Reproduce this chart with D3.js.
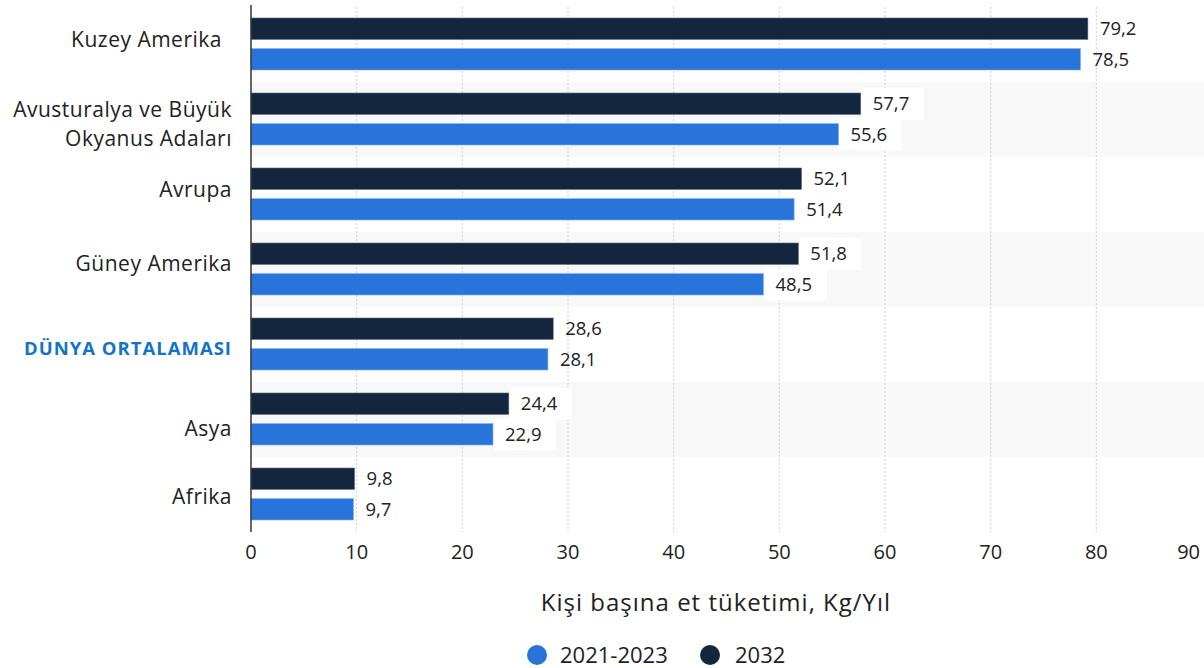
<!DOCTYPE html>
<html>
<head>
<meta charset="utf-8">
<script src="https://cdn.jsdelivr.net/npm/d3@7"></script>
<style>
  body { margin: 0; background: #fff; }
  text { font-family: "Open Sans", Lato, sans-serif; }
</style>
</head>
<body>
<div id="chart"></div>
<script>
// data
var regions = ["Kuzey Amerika", "Avusturalya ve Büyük|Okyanus Adaları", "Avrupa", "Güney Amerika", "DÜNYA ORTALAMASI", "Asya", "Afrika"];
var val2032 = [79.2, 57.7, 52.1, 51.8, 28.6, 24.4, 9.8];
var val2021 = [78.5, 55.6, 51.4, 48.5, 28.1, 22.9, 9.7];
var seriesNames = ["2021-2023", "2032"];
var xTicks = [0, 10, 20, 30, 40, 50, 60, 70, 80, 90];
var axisTitle = "Kişi başına et tüketimi, Kg/Yıl";

var W = 1204, H = 668;
var margin = {top: 7, left: 251, right: 2, bottom: 136};
var colDark = "#13263d", colBlue = "#2874db";
// baseline nudge of the category labels, as in the original
var labelNudge = [2.5, -2.5, 2.5, 1.5, 10.5, 16.5, 9.5];

var svg = d3.select("#chart").append("svg")
  .attr("width", W).attr("height", H);

var x = d3.scaleLinear().domain([0, 90]).range([margin.left, margin.left + 951]);
var y = d3.scaleBand().domain(d3.range(regions.length))
  .range([margin.top, H - margin.bottom]).padding(0);
var inner = d3.scaleBand().domain([0, 1]).range([11, y.bandwidth() - 12]).paddingInner(0.3);

// stripes
svg.append("g").selectAll("rect").data(regions).enter().append("rect")
  .attr("x", margin.left).attr("width", W - margin.left)
  .attr("y", function(d, i) { return y(i); })
  .attr("height", y.bandwidth())
  .attr("fill", function(d, i) { return i % 2 ? "#f8f8f8" : "#fff"; });

// grid
svg.append("g").selectAll("line").data(xTicks.filter(function(t) { return t > 0 && t < 90; }))
  .enter().append("line")
  .attr("x1", function(d) { return x(d); }).attr("x2", function(d) { return x(d); })
  .attr("y1", margin.top).attr("y2", H - margin.bottom)
  .attr("stroke", "#d0d0d0").attr("stroke-dasharray", "2,2");

// bars
var rows = regions.map(function(r, i) { return {i: i, a: val2032[i], b: val2021[i]}; });
var g = svg.append("g").selectAll("g").data(rows).enter().append("g")
  .attr("transform", function(d) { return "translate(0," + y(d.i) + ")"; });

[["a", 0, colDark, "#5a6a80"], ["b", 1, colBlue, "#7fb0f0"]].forEach(function(s) {
  g.append("rect")
    .attr("x", x(0))
    .attr("y", inner(s[1]))
    .attr("width", function(d) { return x(d[s[0]]) - x(0); })
    .attr("height", inner.bandwidth())
    .attr("fill", s[2]).attr("stroke", s[3]).attr("stroke-width", 0.6);
  var lab = g.append("g")
    .attr("transform", function(d) { return "translate(" + (x(d[s[0]]) + 1) + "," + (inner(s[1]) + inner.bandwidth() / 2) + ")"; });
  lab.append("rect").attr("x", 0).attr("y", -16).attr("width", 62).attr("height", 32)
    .attr("fill", function(d) { return d.i % 2 ? "#fff" : "none"; });
  lab.append("text").attr("x", 11).attr("dy", "0.36em")
    .attr("font-size", 18.5).attr("fill", "#222")
    .text(function(d) { return d3.format(".1f")(d[s[0]]).replace(".", ","); });
});

// category labels
var cat = svg.append("g").selectAll("text").data(regions).enter().append("text")
  .attr("text-anchor", "end")
  .attr("x", function(d, i) { return i == 0 ? 222 : 232; })
  .attr("y", function(d, i) { return y(i) + y.bandwidth() / 2 + labelNudge[i]; })
  .attr("fill", function(d, i) { return i == 4 ? "#1473c6" : "#222"; })
  .attr("font-size", function(d, i) { return i == 4 ? 18.5 : 21; })
  .attr("letter-spacing", function(d, i) { return i == 4 ? 1 : 0.5; })
  .attr("font-weight", function(d, i) { return i == 4 ? "bold" : "normal"; });
cat.each(function(d) {
  var parts = d.split("|");
  var t = d3.select(this);
  parts.forEach(function(p, k) {
    t.append("tspan").attr("x", t.attr("x"))
      .attr("dy", k == 0 ? 0 : 29)
      .text(p);
  });
});

// axis line
svg.append("line").attr("x1", x(0)).attr("x2", x(0))
  .attr("y1", 5).attr("y2", H - margin.bottom)
  .attr("stroke", "#333").attr("stroke-width", 1.5);

// tick labels
svg.append("g").selectAll("text").data(xTicks).enter().append("text")
  .attr("x", function(d) { return d == 90 ? W - 4 : x(d); })
  .attr("y", 559)
  .attr("text-anchor", function(d) { return d == 90 ? "end" : "middle"; })
  .attr("font-size", 20).attr("fill", "#222")
  .text(function(d) { return d; });

svg.append("text").attr("x", 716).attr("y", 611)
  .attr("text-anchor", "middle").attr("font-size", 24).attr("letter-spacing", 1)
  .attr("fill", "#222")
  .text(axisTitle);

// legend
var leg = svg.append("g").selectAll("g").data(seriesNames).enter().append("g")
  .attr("transform", function(d, i) { return "translate(" + (i == 0 ? 537 : 710) + ",655)"; });
leg.append("circle").attr("r", 10)
  .attr("fill", function(d, i) { return i == 0 ? colBlue : colDark; });
leg.append("text").attr("x", function(d, i) { return i == 0 ? 23 : 25; }).attr("dy", "0.35em")
  .attr("font-size", 22).attr("fill", "#222")
  .text(function(d) { return d; });
</script>
</body>
</html>
